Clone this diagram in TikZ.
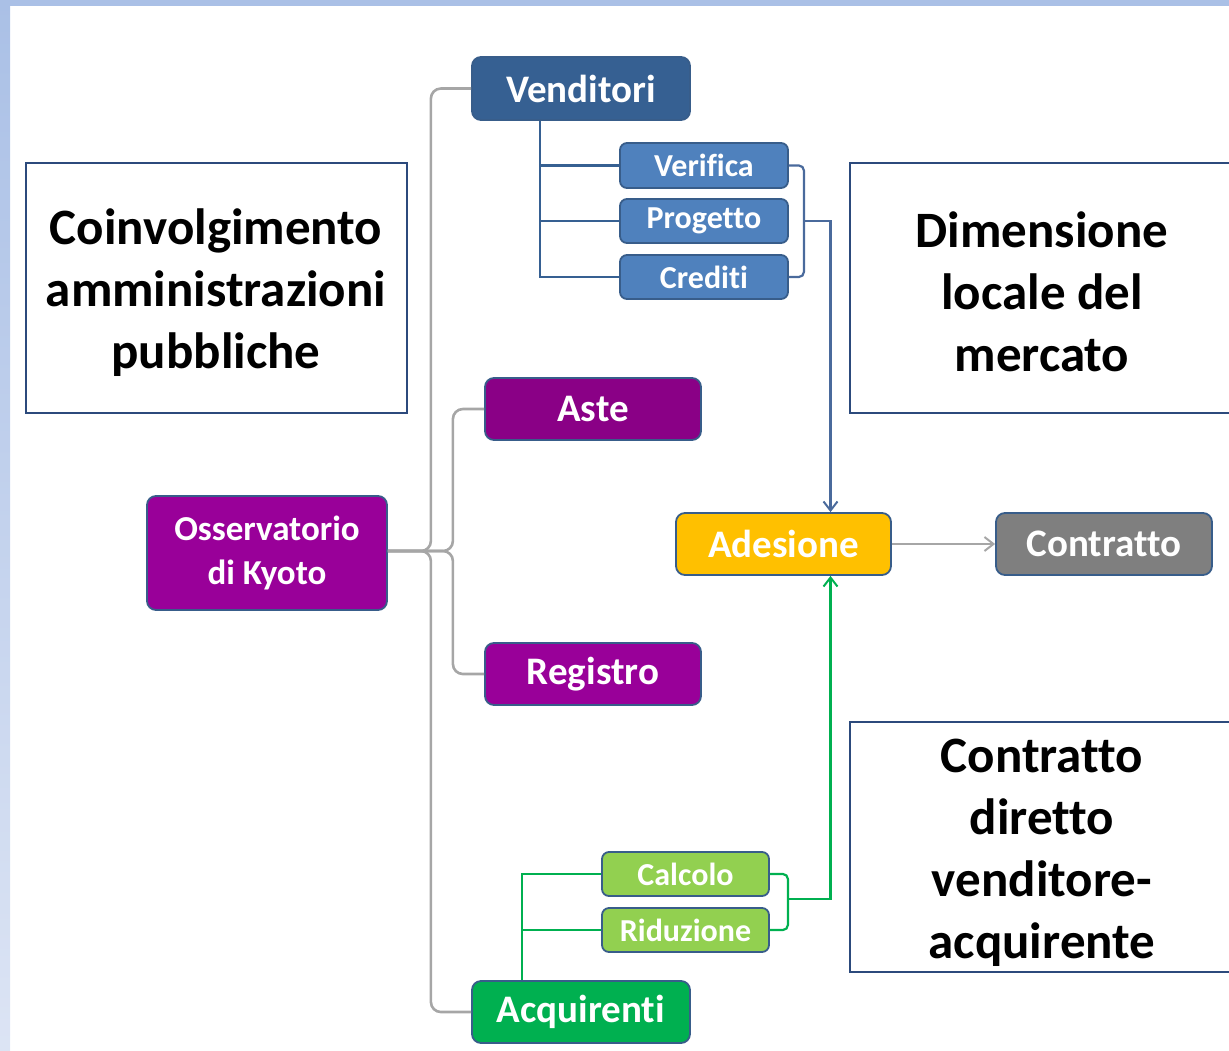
\documentclass[tikz,border=0pt]{standalone}
\usepackage{fontspec}
\setmainfont[Ligatures=NoCommon]{Carlito}
\usetikzlibrary{arrows.meta}
\usetikzlibrary{positioning}
\usetikzlibrary{calc}
\definecolor{framebar}{HTML}{AAC0E6}
\definecolor{framefade}{HTML}{DCE4F4}
\definecolor{edgeblue}{HTML}{385D8A}
\definecolor{paneledge}{HTML}{2C4A7C}
\definecolor{vendblue}{HTML}{366092}
\definecolor{subblue}{HTML}{4F81BD}
\definecolor{linkblue}{HTML}{4A6A9C}
\definecolor{astepurple}{HTML}{8A0086}
\definecolor{kyotopurple}{HTML}{990099}
\definecolor{adeyellow}{HTML}{FFC000}
\definecolor{contrgrey}{HTML}{7F7F7F}
\definecolor{acqgreen}{HTML}{00B050}
\definecolor{subgreen}{HTML}{92D050}
\definecolor{treegrey}{HTML}{A6A6A6}
\tikzset{box/.style = {draw=edgeblue, line width=1.8, rounded corners=9, inner sep=0,
                       text=white, font=\bfseries\fontsize{39}{44}\selectfont},
         subbox/.style = {box, rounded corners=7, font=\bfseries\fontsize{32}{36}\selectfont},
         panel/.style = {draw=paneledge, line width=2},
         paneltext/.style = {align=center, inner sep=0, font=\bfseries\fontsize{51}{62}\selectfont},
         tree/.style = {line width=2.6, rounded corners=10},
         tip/.style = {-{Straight Barb[length=9, width=14, line width=2]}}}

\begin{document}
\begin{tikzpicture}[x=1pt, y=-1pt]
      \useasboundingbox (0, 0) rectangle (1229, 1050);
      \shade [top color=framebar, bottom color=framefade] (0, 0) rectangle (10, 1050);
      \fill [framebar] (0, 0) rectangle (1229, 6);

      % text panels
      \draw [panel] (26, 163) rectangle (407, 413);
      \draw [panel] (1229, 163) -- (850, 163) -- (850, 413) -- (1229, 413);
      \draw [panel] (1229, 722) -- (850, 722) -- (850, 972) -- (1229, 972);
      \node [paneltext] (coinv) at (216, 293) {Coinvolgimento\\amministrazioni\\pubbliche};
      \node [paneltext] (dimens) at (1042, 292) {Dimensione\\locale del\\mercato};
      \node [paneltext] (diretto) at (1042, 853) {Contratto\\diretto\\venditore-\\acquirente};

      % nodes
      \node [box, fill=vendblue, minimum width=218, minimum height=63] (vend) at (581, 88.5) {Venditori};
      \node [subbox, fill=subblue, minimum width=168, minimum height=45] (verif) at (704, 165.5) {Verifica};
      \node [subbox, fill=subblue, minimum width=168, minimum height=44] (prog) at (704, 221) {Progetto};
      \node [subbox, fill=subblue, minimum width=168, minimum height=44] (cred) at (704, 277) {Crediti};
      \node [box, fill=astepurple, minimum width=216, minimum height=62] (aste) at (593, 409) {Aste};
      \node [box, fill=kyotopurple, minimum width=216, minimum height=62] (reg) at (593, 674) {Registro};
      \node [box, fill=kyotopurple, minimum width=240, minimum height=114, align=center,
             font=\bfseries\fontsize{35}{44}\selectfont] (kyoto) at (267, 553) {Osservatorio\\di Kyoto};
      \node [box, fill=adeyellow, minimum width=215, minimum height=62] (ades) at (783.5, 544) {Adesione};
      \node [box, fill=contrgrey, minimum width=216, minimum height=62] (contr) at (1104, 544) {Contratto};
      \node [subbox, fill=subgreen, minimum width=167, minimum height=44] (calc) at (685.5, 874) {Calcolo};
      \node [subbox, fill=subgreen, minimum width=167, minimum height=44] (ridu) at (685.5, 930) {Riduzione};
      \node [box, fill=acqgreen, minimum width=218, minimum height=62] (acq) at (581, 1012) {Acquirenti};

      % grey tree from the observatory
      \coordinate (kout) at (kyoto.east |- 0, 551);
      \draw [tree, treegrey] (kout) -- ++(43, 0) |- (vend.west);
      \draw [tree, treegrey] (kout) -- ++(43, 0) |- (acq.west);
      \draw [tree, treegrey] (kout) -- ++(65, 0) |- (aste.west);
      \draw [tree, treegrey] (kout) -- ++(65, 0) |- (reg.west);

      % sellers
      \coordinate (vstem) at ([xshift=-41] vend.south);
      \draw [tree, vendblue, rounded corners=0] (vstem) |- (cred.west);
      \draw [vendblue, line width=2.6] (vstem |- verif.west) -- (verif.west);
      \draw [vendblue, line width=2.6] (vstem |- prog.west) -- (prog.west);
      \draw [linkblue, line width=2.2, rounded corners=5] (verif.east) -- ++(15, 0) |- (cred.east);
      \coordinate (vjoin) at ([xshift=15] prog.east);
      \draw [linkblue, line width=2.2, tip] (vjoin) -| ([xshift=47] ades.north);

      % buyers
      \coordinate (astem) at ([xshift=-59] acq.north);
      \draw [acqgreen, line width=2.6] (astem) |- (calc.west);
      \draw [acqgreen, line width=2.6] (astem |- ridu.west) -- (ridu.west);
      \draw [acqgreen, line width=2.2, rounded corners=5] (calc.east) -- ++(18, 0) |- (ridu.east);
      \coordinate (ajoin) at ($(calc.east)!0.45!(ridu.east) + (18, 0)$);
      \draw [acqgreen, line width=2.2, tip] (ajoin) -| ([xshift=47] ades.south);

      \draw [treegrey, line width=2.4, tip] (ades) -- (contr);
    \end{tikzpicture}
\end{document}
